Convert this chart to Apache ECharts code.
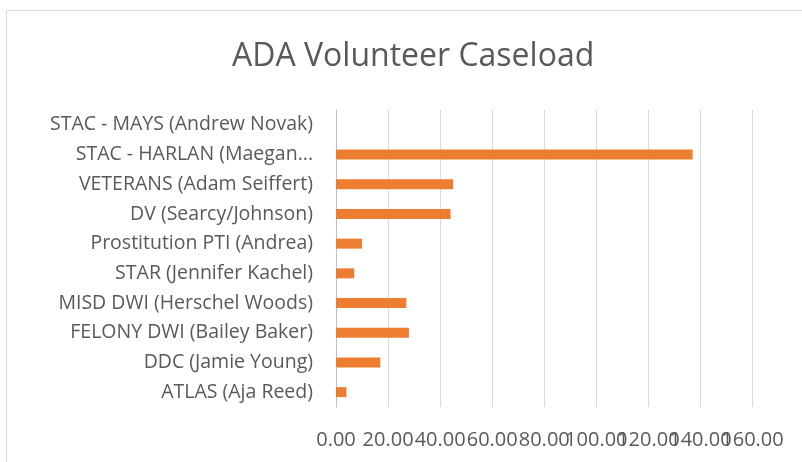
<!DOCTYPE html>
<html>
<head>
<meta charset="utf-8">
<script src="https://cdn.jsdelivr.net/npm/echarts@6/dist/echarts.min.js"></script>
<style>html,body{margin:0;padding:0;background:#fff}#c{width:802px;height:462px}</style>
</head>
<body>
<div id="c"></div>
<script>
const categories = [
  "ATLAS (Aja Reed)",
  "DDC (Jamie Young)",
  "FELONY DWI (Bailey Baker)",
  "MISD DWI (Herschel Woods)",
  "STAR (Jennifer Kachel)",
  "Prostitution PTI (Andrea)",
  "DV (Searcy/Johnson)",
  "VETERANS (Adam Seiffert)",
  "STAC - HARLAN (Maegan...",
  "STAC - MAYS (Andrew Novak)"
];
const caseload = [4, 17, 28, 27, 7, 10, 44, 45, 137, 0];
const xMin = 0, xMax = 160, xStep = 20;
const titleText = "ADA Volunteer Caseload";

const chart = echarts.init(document.getElementById('c'), null, {renderer: 'canvas'});
const font = "'Open Sans', sans-serif";
const labelBase = {fontFamily: font, fontSize: 20, color: '#595959', margin: 23, hideOverlap: false};
chart.setOption({
  animation: false,
  title: {
    text: titleText,
    left: 227,
    top: 36,
    textStyle: {fontFamily: font, fontSize: 32, fontWeight: 'normal', color: '#595959'}
  },
  graphic: [{
    type: 'rect',
    shape: {x: 6.5, y: 10.5, width: 820, height: 480},
    style: {fill: 'none', stroke: '#d9d9d9', lineWidth: 1},
    silent: true
  }],
  grid: {left: 336, width: 416.5, top: 110, height: 297},
  xAxis: [{
    type: 'value', position: 'bottom',
    min: xMin, max: xMax, interval: xStep,
    axisLine: {show: false},
    axisTick: {show: false},
    splitLine: {lineStyle: {color: '#d9d9d9', width: 1}},
    axisLabel: Object.assign({}, labelBase, {
      showMinLabel: true, showMaxLabel: false,
      formatter: v => v.toFixed(2)
    })
  }, {
    type: 'value', position: 'bottom',
    min: xMin, max: xMax, interval: xStep,
    axisLine: {show: false},
    axisTick: {show: false},
    splitLine: {show: false},
    axisLabel: Object.assign({}, labelBase, {
      showMinLabel: false, showMaxLabel: true,
      formatter: v => (v === xMax ? v.toFixed(2) : '')
    })
  }],
  yAxis: {
    type: 'category',
    data: categories,
    axisLine: {lineStyle: {color: '#bfbfbf'}},
    axisTick: {show: false},
    axisLabel: {fontFamily: font, fontSize: 19.5, color: '#595959', margin: 23, interval: 0}
  },
  series: [{
    type: 'bar',
    xAxisIndex: 0,
    data: caseload,
    barWidth: 10,
    itemStyle: {color: '#ED7D31'}
  }]
});
</script>
</body>
</html>
